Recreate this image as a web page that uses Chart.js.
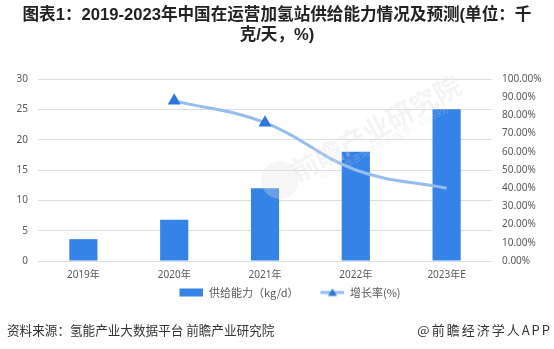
<!DOCTYPE html>
<html>
<head>
<meta charset="utf-8">
<script src="https://cdn.jsdelivr.net/npm/chart.js@4.4.1/dist/chart.umd.min.js"></script>
<style>
  html, body { margin: 0; padding: 0; background: #fff; }
  #wrap { position: relative; width: 554px; height: 349px; overflow: hidden;
          font-family: "Liberation Sans", "Noto Sans CJK SC", sans-serif; }
  #chart { position: absolute; left: 0; top: 0; }
  .title { position: absolute; left: 0; top: 5px; width: 554px; text-align: center;
           font-weight: bold; font-size: 16.6px; line-height: 20px; color: #222; }
  .src { position: absolute; left: 7px; top: 320px; font-size: 12.6px; color: #333;
         font-family: "Noto Sans CJK SC", sans-serif; }
  .brand { position: absolute; right: 2px; top: 320px; font-size: 13px; color: #333;
           font-family: "Noto Sans CJK SC", sans-serif; letter-spacing: 2px; }
</style>
</head>
<body>
<div id="wrap">
  <canvas id="chart" width="554" height="349"></canvas>
  <div class="title">图表1：2019-2023年中国在运营加氢站供给能力情况及预测(单位：千<br>克/天，%)</div>
  <div class="src">资料来源：氢能产业大数据平台 前瞻产业研究院</div>
  <div class="brand">@前瞻经济学人APP</div>
</div>
<script>
// categories and series
const years = ["2019年", "2020年", "2021年", "2022年", "2023年E"];
const capacity = [3.6, 6.8, 12, 18, 25];      // 供给能力 kg/d (千)
const growth = [null, 88, 76, 50, 40];         // 增长率 %
const leftTicks = [0, 5, 10, 15, 20, 25, 30];
const rightTicks = [0, 10, 20, 30, 40, 50, 60, 70, 80, 90, 100];

const BAR = "#3583e6";
const LINE = "#95bdf0";
const MARK = "#2f77dc";
const TICK = "#595959";

// legend swatches drawn into small canvases (right-aligned in a 40px box,
// the empty left part doubles as spacing between items)
function swatch(kind) {
  const c = document.createElement("canvas");
  c.width = 40; c.height = 10;
  const g = c.getContext("2d");
  if (kind === "bar") {
    g.fillStyle = BAR;
    g.fillRect(16, 1, 24, 8);
  } else {
    g.strokeStyle = LINE; g.lineWidth = 3;
    g.beginPath(); g.moveTo(16, 5); g.lineTo(40, 5); g.stroke();
    g.fillStyle = MARK;
    g.beginPath(); g.moveTo(28, 1); g.lineTo(32.5, 8.5); g.lineTo(23.5, 8.5); g.closePath(); g.fill();
  }
  return c;
}

// faint brand stamp over the plot
const stamp = {
  id: "stamp",
  afterDatasetsDraw(chart) {
    const g = chart.ctx;
    g.save();
    g.fillStyle = "rgba(225,225,225,0.3)";
    g.beginPath(); g.arc(280, 180, 19, 0, Math.PI * 2); g.fill();
    g.translate(376, 128);
    g.rotate(-0.5);
    g.font = "bold 27px 'Noto Sans CJK SC'";
    g.fillStyle = "rgba(218,218,218,0.3)";
    g.textAlign = "center";
    g.fillText("前瞻产业研究院", 0, 0);
    g.font = "9px 'Noto Sans CJK SC'";
    g.fillText("中国产业咨询领导者(股票：839599)", 0, 17);
    g.restore();
  }
};

const tickFont = { family: "'Noto Sans', 'Noto Sans CJK SC', sans-serif", size: 10 };

new Chart(document.getElementById("chart"), {
  data: {
    labels: years,
    datasets: [
      {
        type: "line",
        label: "增长率(%)",
        data: growth,
        yAxisID: "y1",
        borderColor: LINE,
        borderWidth: 3,
        tension: 0.4,
        pointStyle: "triangle",
        pointRadius: (c) => (c.dataIndex < 3 ? 4.5 : 0),
        pointBackgroundColor: MARK,
        pointBorderColor: MARK,
        order: 0
      },
      {
        type: "bar",
        label: "供给能力（kg/d）",
        data: capacity,
        yAxisID: "y",
        backgroundColor: BAR,
        categoryPercentage: 1,
        barPercentage: 0.31,
        order: 1
      }
    ]
  },
  options: {
    responsive: false,
    animation: false,
    layout: { padding: { top: 79, left: 10, right: 0, bottom: 41 } },
    plugins: {
      tooltip: { enabled: false },
      legend: {
        position: "bottom",
        labels: {
          usePointStyle: true,
          pointStyleWidth: 40,
          padding: 6,
          color: TICK,
          font: { family: "'Noto Sans CJK SC', sans-serif", size: 11 },
          generateLabels: () => [
            { text: "供给能力（kg/d）", pointStyle: swatch("bar"), fontColor: TICK, lineWidth: 0, datasetIndex: 1 },
            { text: "增长率(%)", pointStyle: swatch("line"), fontColor: TICK, lineWidth: 0, datasetIndex: 0 }
          ]
        }
      }
    },
    scales: {
      x: {
        grid: { display: false, drawTicks: false },
        border: { display: false },
        ticks: { color: TICK, font: tickFont, padding: 8, autoSkip: false, maxRotation: 0 },
        afterFit: (s) => { s.height = 20; }
      },
      y: {
        position: "left",
        min: 0, max: 30,
        afterBuildTicks: (s) => { s.ticks = leftTicks.map((v) => ({ value: v })); },
        grid: { color: "#dedede", lineWidth: 1, drawTicks: false },
        border: { display: false },
        ticks: { color: TICK, font: tickFont, padding: 10 },
        afterFit: (s) => { s.width = 28; }
      },
      y1: {
        position: "right",
        min: 0, max: 100,
        afterBuildTicks: (s) => { s.ticks = rightTicks.map((v) => ({ value: v })); },
        grid: { display: false, drawTicks: false },
        border: { display: false },
        ticks: { color: TICK, font: tickFont, padding: 10, callback: (v) => v.toFixed(2) + "%" },
        afterFit: (s) => { s.width = 62; }
      }
    }
  },
  plugins: [stamp]
});
</script>
</body>
</html>
